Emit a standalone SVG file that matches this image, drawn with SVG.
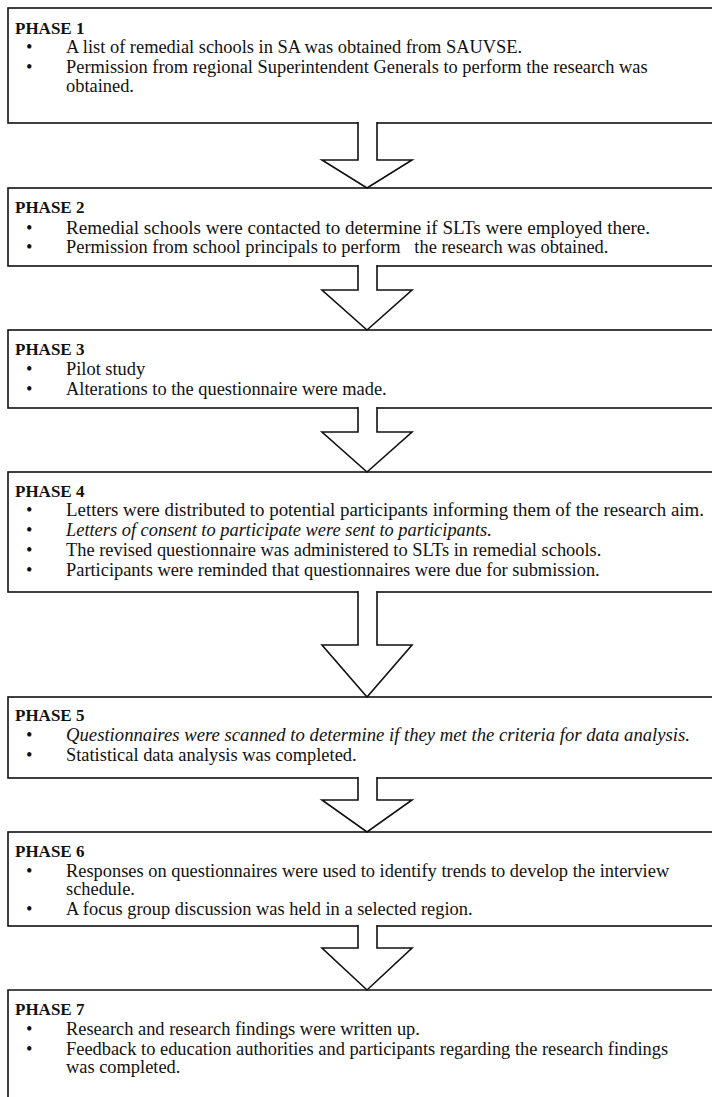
<svg xmlns="http://www.w3.org/2000/svg" width="712" height="1097" viewBox="0 0 712 1097">
<style>
.box{fill:#fff;stroke:#111;stroke-width:1.6}
.arr{fill:#fff;stroke:#111;stroke-width:1.6;stroke-linejoin:miter}
text{font-family:"Liberation Serif","Times New Roman",serif;fill:#111}
.h{font-size:17px;font-weight:bold}
.t{font-size:18.4px}
.i{font-style:italic}
.pre{white-space:pre}
</style>
<rect width="712" height="1097" fill="#fff"/>
<g id="phase1">
<rect class="box" x="8" y="8" width="720" height="115"/>
<text class="h" x="15" y="34">PHASE 1</text>
<text class="t" x="26" y="53">•</text><text class="t" x="66" y="53">A list of remedial schools in SA was obtained from SAUVSE.</text>
<text class="t" x="26" y="73">•</text><text class="t" x="66" y="73">Permission from regional Superintendent Generals to perform the research was</text>
<text class="t" x="66" y="92">obtained.</text>
</g>
<g id="phase2">
<rect class="box" x="8" y="188" width="720" height="78"/>
<text class="h" x="15" y="213">PHASE 2</text>
<text class="t" x="26" y="234">•</text><text class="t" x="66" y="234" textLength="584" lengthAdjust="spacingAndGlyphs">Remedial schools were contacted to determine if SLTs were employed there.</text>
<text class="t" x="26" y="253">•</text><text class="t pre" x="66" y="253">Permission from school principals to perform   the research was obtained.</text>
</g>
<g id="phase3">
<rect class="box" x="8" y="330" width="720" height="78"/>
<text class="h" x="15" y="355">PHASE 3</text>
<text class="t" x="26" y="375">•</text><text class="t" x="66" y="375">Pilot study</text>
<text class="t" x="26" y="395">•</text><text class="t" x="66" y="395">Alterations to the questionnaire were made.</text>
</g>
<g id="phase4">
<rect class="box" x="8" y="472" width="720" height="120"/>
<text class="h" x="15" y="497">PHASE 4</text>
<text class="t" x="26" y="516">•</text><text class="t" x="66" y="516" textLength="638" lengthAdjust="spacingAndGlyphs">Letters were distributed to potential participants informing them of the research aim.</text>
<text class="t" x="26" y="536">•</text><text class="t i" x="66" y="536">Letters of consent to participate were sent to participants.</text>
<text class="t" x="26" y="556">•</text><text class="t" x="66" y="556">The revised questionnaire was administered to SLTs in remedial schools.</text>
<text class="t" x="26" y="576">•</text><text class="t" x="66" y="576">Participants were reminded that questionnaires were due for submission.</text>
</g>
<g id="phase5">
<rect class="box" x="8" y="697" width="720" height="81"/>
<text class="h" x="15" y="721">PHASE 5</text>
<text class="t" x="26" y="741">•</text><text class="t i" x="66" y="741" textLength="624" lengthAdjust="spacingAndGlyphs">Questionnaires were scanned to determine if they met the criteria for data analysis.</text>
<text class="t" x="26" y="761">•</text><text class="t" x="66" y="761">Statistical data analysis was completed.</text>
</g>
<g id="phase6">
<rect class="box" x="8" y="832" width="720" height="94"/>
<text class="h" x="15" y="857">PHASE 6</text>
<text class="t" x="26" y="877">•</text><text class="t" x="66" y="877">Responses on questionnaires were used to identify trends to develop the interview</text>
<text class="t" x="66" y="895">schedule.</text>
<text class="t" x="26" y="915">•</text><text class="t" x="66" y="915">A focus group discussion was held in a selected region.</text>
</g>
<g id="phase7">
<path class="box" d="M728 990 H8 V1100" fill="none"/>
<text class="h" x="15" y="1015">PHASE 7</text>
<text class="t" x="26" y="1035">•</text><text class="t" x="66" y="1035">Research and research findings were written up.</text>
<text class="t" x="26" y="1055">•</text><text class="t" x="66" y="1055">Feedback to education authorities and participants regarding the research findings</text>
<text class="t" x="66" y="1073">was completed.</text>
</g>
<g id="connectors">
<path class="arr" d="M358 122 V160 H322 L367 188 L412 160 H377 V122"/>
<path class="arr" d="M358 265 V290 H322 L367 330 L412 290 H377 V265"/>
<path class="arr" d="M358 407 V432 H322 L367 472 L412 432 H377 V407"/>
<path class="arr" d="M358 591 V645 H322 L367 697 L412 645 H377 V591"/>
<path class="arr" d="M358 777 V800 H322 L367 832 L412 800 H377 V777"/>
<path class="arr" d="M358 925 V948 H322 L367 990 L412 948 H377 V925"/>
</g>
</svg>
